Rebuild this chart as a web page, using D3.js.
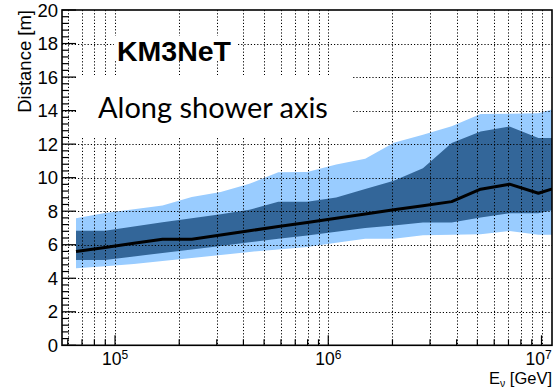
<!DOCTYPE html>
<html>
<head>
<meta charset="utf-8">
<script src="https://cdn.jsdelivr.net/npm/d3@7"></script>
<style>
  html, body { margin: 0; padding: 0; background: #fff; }
  svg { display: block; }
</style>
</head>
<body>
<svg id="chart" width="556" height="391"></svg>
<script>
// Neutrino energy per bin [GeV]
const energies = [6.56e4, 8.97e4, 1.225e5, 1.67e5, 2.29e5, 3.13e5, 4.27e5, 5.83e5, 7.97e5,
                  1.09e6, 1.49e6, 2.03e6, 2.78e6, 3.79e6, 5.18e6, 7.08e6, 9.67e6, 1.32e7];
// Median distance along the shower axis [m]
const median  = [5.59, 5.84, 6.09, 6.33, 6.33, 6.58, 6.83, 7.08, 7.33,
                 7.58, 7.83, 8.08, 8.33, 8.57, 9.31, 9.61, 9.07, 9.60];
// Inner (dark) band
const innerLo = [5.09, 5.09, 5.30, 5.51, 5.72, 5.93, 6.14, 6.35, 6.55,
                 6.78, 6.99, 7.15, 7.32, 7.32, 7.62, 7.88, 7.88, 8.24];
const innerHi = [6.84, 6.84, 7.09, 7.34, 7.58, 7.81, 8.08, 8.56, 8.56,
                 8.82, 9.33, 9.81, 10.56, 12.06, 12.76, 13.05, 12.36, 12.36];
// Outer (light) band
const outerLo = [4.60, 4.72, 4.85, 5.03, 5.21, 5.39, 5.57, 5.72, 5.87,
                 6.11, 6.35, 6.35, 6.56, 6.59, 6.63, 6.82, 6.59, 6.59];
const outerHi = [7.58, 7.89, 8.12, 8.34, 8.84, 9.15, 9.63, 10.32, 10.33,
                 10.78, 11.12, 12.08, 12.56, 13.07, 13.79, 13.81, 13.84, 14.32];

const yTicks = [0, 2, 4, 6, 8, 10, 12, 14, 16, 18, 20];
const xDecades = [1e5, 1e6, 1e7];
const xDecadeExp = ["5", "6", "7"];

const svg = d3.select("#chart");
const L = 62, R = 552, T = 10, B = 345.3;

const x = d3.scaleLog().domain([5.64e4, 1.12e7]).range([L, R]);
const y = d3.scaleLinear().domain([0, 20]).range([B, T]);

svg.append("defs").append("clipPath").attr("id", "plotclip")
  .append("rect").attr("x", L).attr("y", T).attr("width", R - L).attr("height", B - T);

const rows = energies.map((e, i) => ({
  e, med: median[i], iLo: innerLo[i], iHi: innerHi[i], oLo: outerLo[i], oHi: outerHi[i]
}));

const plot = svg.append("g").attr("clip-path", "url(#plotclip)");

// Bands
plot.append("path").datum(rows)
  .attr("fill", "#99ccff")
  .attr("d", d3.area().x(d => x(d.e)).y0(d => y(d.oLo)).y1(d => y(d.oHi)));
plot.append("path").datum(rows)
  .attr("fill", "#336699")
  .attr("d", d3.area().x(d => x(d.e)).y0(d => y(d.iLo)).y1(d => y(d.iHi)));

// Dotted grid
const gridTicks = [];
for (let p = 4; p <= 7; p++) {
  for (let m = 1; m <= 9; m++) {
    const v = m * Math.pow(10, p);
    if (v >= 5.64e4 && v <= 1.12e7) gridTicks.push(v);
  }
}
const grid = svg.append("g").attr("stroke", "#000").attr("stroke-width", 1)
  .attr("stroke-dasharray", "1.2,2");
grid.selectAll(".gx").data(gridTicks).enter().append("line")
  .attr("x1", d => Math.round(x(d)) + 0.5).attr("x2", d => Math.round(x(d)) + 0.5)
  .attr("y1", T).attr("y2", B);
grid.selectAll(".gy").data(yTicks.filter(v => v > 0 && v < 20)).enter().append("line")
  .attr("x1", L).attr("x2", R)
  .attr("y1", d => Math.round(y(d)) + 0.5).attr("y2", d => Math.round(y(d)) + 0.5);

// Median line
plot.append("path").datum(rows)
  .attr("fill", "none").attr("stroke", "#000").attr("stroke-width", 3)
  .attr("stroke-linejoin", "round")
  .attr("d", d3.line().x(d => x(d.e)).y(d => y(d.med)));

// Axis ticks
const ax = svg.append("g").attr("stroke", "#000").attr("stroke-width", 1.2);
const yMinor = d3.range(0, 20.001, 0.4);
ax.selectAll(".ty").data(yMinor).enter().append("line")
  .attr("x1", L).attr("x2", d => L + (Math.abs(d / 2 - Math.round(d / 2)) < 1e-6 ? 14 : 7))
  .attr("y1", d => y(d)).attr("y2", d => y(d));
ax.selectAll(".tx").data(gridTicks).enter().append("line")
  .attr("x1", d => x(d)).attr("x2", d => x(d))
  .attr("y1", B).attr("y2", d => B - (xDecades.includes(d) ? 10 : 6));

// Frame
svg.append("rect").attr("x", L).attr("y", T).attr("width", R - L).attr("height", B - T)
  .attr("fill", "none").attr("stroke", "#000").attr("stroke-width", 1.6);

// Tick labels
const font = "'Liberation Sans', Arial, Helvetica, sans-serif";
svg.append("g").selectAll("text").data(yTicks).enter().append("text")
  .attr("x", 58).attr("y", d => y(d) + 6.5)
  .attr("text-anchor", "end").attr("font-family", font).attr("font-size", 18.5)
  .text(d => d);

const xl = svg.append("g").selectAll("text").data(xDecades).enter().append("text")
  .attr("x", (d, i) => x(d) + (i === 2 ? -3 : 0)).attr("y", 365)
  .attr("text-anchor", "middle").attr("font-family", font).attr("font-size", 17.5);
xl.append("tspan").text("10");
xl.append("tspan").attr("dy", -6).attr("font-size", 12).text((d, i) => xDecadeExp[i]);

// Axis titles
const xt = svg.append("text").attr("x", R).attr("y", 384).attr("text-anchor", "end")
  .attr("font-family", font).attr("font-size", 16.5);
xt.append("tspan").text("E");
xt.append("tspan").attr("dy", 3).attr("font-size", 10.5).text("ν");
xt.append("tspan").attr("dy", -3).text(" [GeV]");

svg.append("text").attr("transform", `translate(31,${T}) rotate(-90)`)
  .attr("text-anchor", "end").attr("font-family", font).attr("font-size", 18.5)
  .text("Distance [m]");

// Labels on white boxes
svg.append("rect").attr("x", 114).attr("y", 36).attr("width", 122).attr("height", 25).attr("fill", "#fff");
svg.append("text").attr("x", 117).attr("y", 60.5)
  .attr("font-family", font).attr("font-weight", "bold").attr("font-size", 28.5)
  .text("KM3NeT");

svg.append("rect").attr("x", 77).attr("y", 75).attr("width", 276).attr("height", 61).attr("fill", "#fff");
const sub = svg.append("text").attr("x", 98).attr("y", 118)
  .attr("font-family", "Lato, 'Open Sans', sans-serif").attr("font-size", 28)
  .text("Along shower axis");
const w = sub.node().getComputedTextLength();
sub.attr("font-size", 28 * 230 / w);
</script>
</body>
</html>
